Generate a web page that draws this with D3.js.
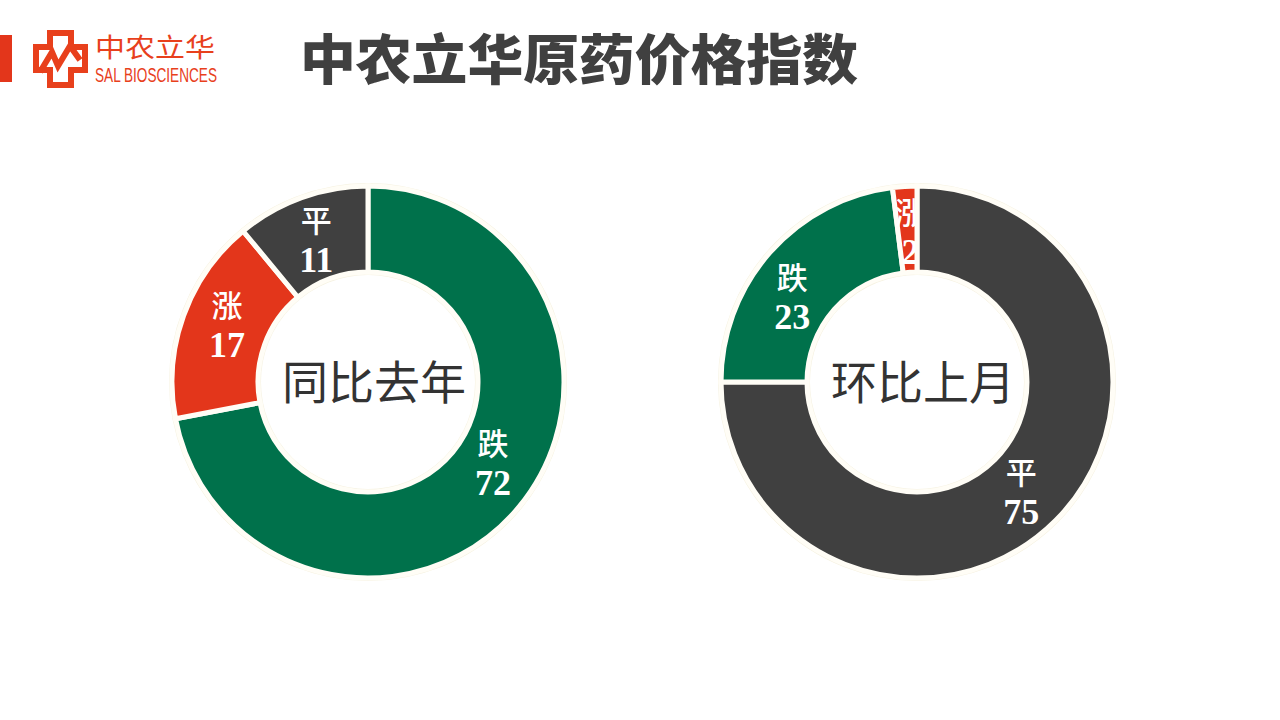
<!DOCTYPE html>
<html><head><meta charset="utf-8">
<script src="https://cdn.jsdelivr.net/npm/d3@7/dist/d3.min.js"></script>
<style>
html,body{margin:0;padding:0;background:#fff;}
svg{display:block;}
</style></head>
<body>
<svg id="c" width="1280" height="720"></svg>
<script>
// ---- data ----
const title = "中农立华原药价格指数";
const leftTitle = "同比去年";
const leftCategories = ["跌", "涨", "平"];
const leftValues = [72, 17, 11];
const rightTitle = "环比上月";
const rightCategories = ["平", "跌", "涨"];
const rightValues = [75, 23, 2];

const colorOf = {"跌": "#00714b", "涨": "#e3361b", "平": "#404040"};
// small label nudges (px) to mimic the reference label placement
const leftNudge = {"跌": [7, -18], "涨": [3, -6], "平": [0, 1]};
const rightNudge = {"平": [-4, 1], "跌": [-10, 15], "涨": [3, 2]};

const svg = d3.select("#c");

// ---- header ----
svg.append("rect").attr("x", 0).attr("y", 35).attr("width", 12).attr("height", 47).attr("fill", "#e3361b");
const logo = svg.append("g").attr("fill", "none").attr("stroke", "#e8401c");
logo.append("path")
  .attr("d", "M50,33 H71 V47 H85 V70 H71 V85 H50 V70 H36 V47 H50 Z")
  .attr("stroke-width", 6).attr("stroke-linejoin", "miter");
logo.append("path")
  .attr("d", "M40,72 L52,52 L58,66 L70,46 L80,60")
  .attr("stroke-width", 6).attr("stroke-linejoin", "miter");
svg.append("text").attr("x", 95).attr("y", 57)
  .attr("font-family", "'Noto Sans CJK SC'").attr("font-size", 26).attr("font-weight", 400)
  .attr("fill", "#e8401c").attr("textLength", 120).attr("lengthAdjust", "spacingAndGlyphs")
  .text("中农立华");
svg.append("text").attr("x", 95).attr("y", 82)
  .attr("font-family", "'Liberation Sans Narrow','Liberation Sans',sans-serif").attr("font-size", 20)
  .attr("fill", "#e8401c").attr("textLength", 122).attr("lengthAdjust", "spacingAndGlyphs")
  .text("SAL BIOSCIENCES");
svg.append("text").attr("x", 300).attr("y", 80)
  .attr("font-family", "'Noto Sans CJK SC'").attr("font-size", 54).attr("font-weight", 900)
  .attr("fill", "#404040").attr("textLength", 558).attr("lengthAdjust", "spacingAndGlyphs")
  .text(title);

// ---- donuts ----
const outerR = 196, innerR = 110;
function donut(cx, cy, cats, vals, centerText, nudge, clipIdx) {
  const g = svg.append("g").attr("transform", `translate(${cx},${cy})`);
  const data = cats.map((c, i) => ({cat: c, value: vals[i]}));
  const pie = d3.pie().value(d => d.value).sort(null);
  const arcs = pie(data);
  const arc = d3.arc().innerRadius(innerR).outerRadius(outerR);
  g.append("circle").attr("r", outerR + 1.5).attr("fill", "none").attr("stroke", "#f6f2e2").attr("stroke-width", 3);
  g.append("circle").attr("r", innerR - 1.5).attr("fill", "none").attr("stroke", "#f6f2e2").attr("stroke-width", 3);
  g.selectAll("path.slice").data(arcs).join("path")
    .attr("class", "slice")
    .attr("d", arc)
    .attr("fill", d => colorOf[d.data.cat])
    .attr("stroke", "#fffdf6").attr("stroke-width", 5).attr("stroke-linejoin", "miter");
  arcs.forEach((a, i) => {
    const c = arc.centroid(a);
    const n = nudge[a.data.cat] || [0, 0];
    const x = c[0] + n[0], y = c[1] + n[1];
    const t = g.append("g");
    if (i === clipIdx) {
      const id = "clip" + cx;
      g.append("clipPath").attr("id", id).append("path")
        .attr("d", d3.arc().innerRadius(innerR).outerRadius(outerR + 40)({startAngle: arcs[0].endAngle, endAngle: a.endAngle - 0.012}));
      t.attr("clip-path", `url(#${id})`);
    }
    t.append("text").attr("x", x).attr("y", y - 7)
      .attr("text-anchor", "middle")
      .attr("font-family", "'Noto Sans CJK SC'").attr("font-size", 31).attr("font-weight", 500)
      .attr("fill", "#fff").text(a.data.cat);
    t.append("text").attr("x", x).attr("y", y + 33)
      .attr("text-anchor", "middle")
      .attr("font-family", "'Liberation Serif','DejaVu Serif',serif").attr("font-size", 36).attr("font-weight", 700)
      .attr("fill", "#fff").text(a.data.value);
  });
  g.append("text").attr("x", 6).attr("y", 17)
    .attr("text-anchor", "middle")
    .attr("font-family", "'Noto Sans CJK SC'").attr("font-size", 46).attr("font-weight", 400)
    .attr("fill", "#333").text(centerText);
}
donut(368, 382, leftCategories, leftValues, leftTitle, leftNudge, -1);
donut(917, 382, rightCategories, rightValues, rightTitle, rightNudge, 2);
</script>
</body></html>
